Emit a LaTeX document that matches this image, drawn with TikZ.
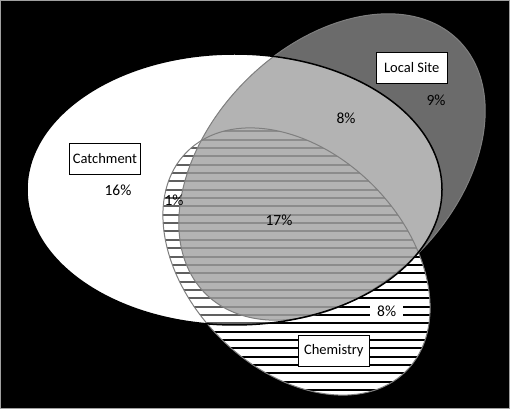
\documentclass[tikz,border=0pt]{standalone}
\usepackage{fontspec}
\setmainfont{Carlito}
\definecolor{darkls}{HTML}{6B6B6B}
\definecolor{lightls}{HTML}{B3B3B3}
\definecolor{hatchgray}{HTML}{8C8C8C}
\definecolor{innerhatch}{HTML}{606060}
\definecolor{outlinegray}{HTML}{7F7F7F}
\definecolor{framegray}{HTML}{A0A0A0}
\begin{document}
\begin{tikzpicture}[x=1pt,y=1pt,
  labelbox/.style={draw=black, line width=1.3pt, fill=white, minimum width=71pt,
    minimum height=31pt, inner sep=0pt, font=\fontsize{14.5}{17}\selectfont},
  pct/.style={font=\fontsize{15.5}{18}\selectfont, inner sep=1pt},
  hatchline/.style={line width=2pt}]
% background and frame
\fill[black] (0,0) rectangle (510,409);
\draw[framegray, line width=1pt] (0.5,0.5) rectangle (509.5,408.5);
\useasboundingbox (0,0) rectangle (510,409);
% catchment
\fill[white] (234.5,219.5) ellipse [x radius=207.5, y radius=135.5];
% local site (dark part)
\fill[darkls, shift={(332,242)}, rotate=45] (0,0) ellipse [x radius=179, y radius=122];
% chemistry hatched (white)
\begin{scope}
  \clip[shift={(296.5,147.5)}, rotate=-45] (0,0) ellipse [x radius=155, y radius=108];
  \fill[white] (0,0) rectangle (510,409);
  \foreach \i in {0,...,32}
    \draw[hatchline, black] (0,{277.7-8.35*\i}) -- (510,{277.7-8.35*\i});
  \begin{scope}
    \clip (234.5,219.5) ellipse [x radius=207.5, y radius=135.5];
    \foreach \i in {0,...,32}
      \draw[hatchline, innerhatch] (0,{277.7-8.35*\i}) -- (510,{277.7-8.35*\i});
  \end{scope}
\end{scope}
% local site inside catchment
\begin{scope}
  \clip (234.5,219.5) ellipse [x radius=207.5, y radius=135.5];
  \fill[lightls, shift={(332,242)}, rotate=45] (0,0) ellipse [x radius=179, y radius=122];
\end{scope}
% triple overlap
\begin{scope}
  \clip (234.5,219.5) ellipse [x radius=207.5, y radius=135.5];
  \clip[shift={(332,242)}, rotate=45] (0,0) ellipse [x radius=179, y radius=122];
  \clip[shift={(296.5,147.5)}, rotate=-45] (0,0) ellipse [x radius=155, y radius=108];
  \fill[lightls] (0,0) rectangle (510,409);
  \foreach \i in {0,...,32}
    \draw[hatchline, hatchgray] (0,{277.7-8.35*\i}) -- (510,{277.7-8.35*\i});
\end{scope}
% outlines
\draw[outlinegray, line width=1pt, shift={(296.5,147.5)}, rotate=-45] (0,0) ellipse [x radius=155, y radius=108];
\draw[outlinegray, line width=1pt, shift={(332,242)}, rotate=45] (0,0) ellipse [x radius=179, y radius=122];
\draw[black, line width=1.5pt] (234.5,219.5) ellipse [x radius=207.5, y radius=135.5];
% labels
\node[labelbox] (catch) at (105,250) {Catchment};
\node[labelbox] (local) at (411.7,341) {Local Site};
\node[labelbox] (chem) at (333.8,58.3) {Chemistry};
\node[pct] (p16) at (118,219) {16\%};
\node[pct] (p1) at (174,209) {1\%};
\node[pct] (p17) at (279,189) {17\%};
\node[pct] (p8a) at (346,291) {8\%};
\node[pct] (p9) at (436,309) {9\%};
\node[pct, fill=white, minimum width=33pt, minimum height=17pt, inner sep=0pt] (p8b) at (386.7,97.3) {8\%};
\end{tikzpicture}
\end{document}
